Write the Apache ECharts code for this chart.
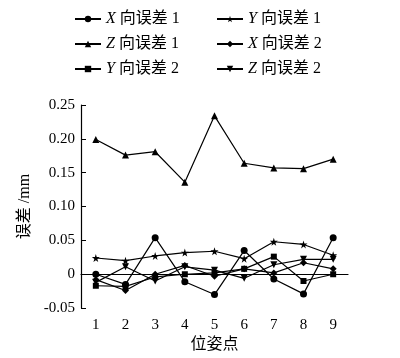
<!DOCTYPE html>
<html><head><meta charset="utf-8">
<script src="https://cdn.jsdelivr.net/npm/echarts@6/dist/echarts.min.js"></script>
<style>html,body{margin:0;padding:0;background:#fff}#c{width:400px;height:358px}</style>
</head><body><div id="c"></div>
<script>
const categories = ['1','2','3','4','5','6','7','8','9'];
const yTicks = [-0.05, 0, 0.05, 0.10, 0.15, 0.20, 0.25];
const seriesNames = ['X向误差 1','Y向误差 1','Z向误差 1','X向误差 2','Y向误差 2','Z向误差 2'];
const x1 = [0.000, -0.015, 0.054, -0.011, -0.030, 0.035, -0.007, -0.029, 0.054];
const y1 = [0.024, 0.020, 0.027, 0.032, 0.034, 0.023, 0.048, 0.044, 0.028];
const z1 = [0.199, 0.176, 0.181, 0.136, 0.234, 0.164, 0.157, 0.156, 0.170];
const x2 = [-0.008, -0.024, 0.000, 0.013, -0.003, 0.008, 0.002, 0.017, 0.008];
const y2 = [-0.017, -0.018, -0.004, 0.000, 0.002, 0.008, 0.026, -0.010, 0.000];
const z2 = [-0.012, 0.011, -0.010, 0.011, 0.006, -0.006, 0.014, 0.022, 0.022];

const serif = '"Liberation Serif", "DejaVu Serif", "Noto Sans CJK SC", serif';
const STAR = 'path://M50,0 L61,35 L98,35 L68,57 L79,91 L50,70 L21,91 L32,57 L2,35 L39,35 Z';

function mk(name, data, symbol, size, rot) {
  return {
    name, type: 'line', data, symbol, symbolSize: size, symbolRotate: rot || 0,
    showSymbol: true,
    lineStyle: { color: '#000', width: 1.2 },
    itemStyle: { color: '#000' },
    emphasis: { disabled: true },
    animation: false
  };
}
const rich = { i: { fontStyle: 'italic', fontFamily: serif, fontSize: 16, color: '#000' }, t: { fontFamily: serif, fontSize: 16, color: '#000' } };
function fmtLegend(name) {
  return '{i|' + name[0] + '} {t|' + name.slice(1) + '}';
}
const legendBase = {
  orient: 'vertical', itemWidth: 26, itemHeight: 8, itemGap: 9,
  formatter: fmtLegend, textStyle: { rich, fontFamily: serif, fontSize: 16, color: '#000' },
  selectedMode: false
};
const chart = echarts.init(document.getElementById('c'), null, { renderer: 'canvas' });
chart.setOption({
  backgroundColor: '#fff',
  animation: false,
  legend: [
    Object.assign({}, legendBase, { left: 69, top: 6, data: [seriesNames[0], seriesNames[2], seriesNames[4]] }),
    Object.assign({}, legendBase, { left: 211, top: 6, data: [seriesNames[1], seriesNames[3], seriesNames[5]] })
  ],
  grid: { left: 81, right: 52, top: 105, bottom: 45 },
  xAxis: {
    type: 'category', data: categories, boundaryGap: true,
    name: '位姿点', nameLocation: 'middle', nameGap: 25,
    nameTextStyle: { fontFamily: serif, fontSize: 16, color: '#000' },
    axisLine: { lineStyle: { color: '#000', width: 1.2 } },
    axisTick: { alignWithLabel: true, inside: true, length: 5, lineStyle: { color: '#000' } },
    axisLabel: { fontFamily: serif, fontSize: 15, color: '#000', margin: 9 },
    splitLine: { show: false }
  },
  yAxis: {
    type: 'value', min: yTicks[0], max: yTicks[yTicks.length - 1], interval: 0.05,
    name: '误差 /mm', nameLocation: 'middle', nameGap: 42, nameRotate: 90,
    nameTextStyle: { fontFamily: serif, fontSize: 16, color: '#000' },
    axisLine: { show: true, lineStyle: { color: '#000', width: 1.2 } },
    axisTick: { show: true, inside: true, length: 5, lineStyle: { color: '#000' } },
    axisLabel: { fontFamily: serif, fontSize: 15, color: '#000', margin: 6,
      formatter: v => Math.abs(v) < 1e-9 ? '0' : v.toFixed(2) },
    splitLine: { show: false }
  },
  series: [
    mk(seriesNames[0], x1, 'circle', 7),
    mk(seriesNames[1], y1, STAR, 8),
    mk(seriesNames[2], z1, 'triangle', 7),
    mk(seriesNames[3], x2, 'diamond', 7),
    mk(seriesNames[4], y2, 'rect', 6),
    mk(seriesNames[5], z2, 'triangle', 7, 180)
  ]
});
</script></body></html>
